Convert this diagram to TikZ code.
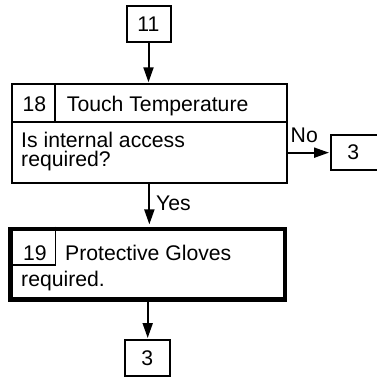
\documentclass[tikz,border=0pt]{standalone}
\usepackage{fontspec}
\setmainfont{Liberation Sans}
\usetikzlibrary{arrows.meta}
\begin{document}
\begin{tikzpicture}[x=1pt,y=-1pt,
  txt/.style={font=\fontsize{21.2}{25}\selectfont, inner sep=0pt},
  twoline/.style={font=\fontsize{21.2}{19}\selectfont, inner sep=0pt, align=left},
  box/.style={draw, line width=2pt, inner sep=0pt, font=\fontsize{21.2}{25}\selectfont},
  thickbox/.style={draw, line width=4.6pt, inner sep=0pt},
  conn/.style={line width=2pt, -{Triangle[length=15pt,width=10pt]}},
  rule/.style={line width=2pt},
  thinrule/.style={line width=1.6pt}]
\useasboundingbox (0,0) rectangle (376,381);
% boxes
\node[box, minimum width=44pt, minimum height=36.3pt] (b11) at (148.5,24.2) {11};
\node[box, minimum width=274.3pt, minimum height=98.7pt] (b18) at (149.35,133.65) {};
\node[box, minimum width=52pt, minimum height=35.3pt] (r3) at (357,152.65) {};
\node[thickbox, minimum width=274.6pt, minimum height=70.5pt] (b19) at (147.7,264.25) {};
\node[box, minimum width=45.5pt, minimum height=36pt] (b3) at (147.25,358) {3};
% inner rules of box 18
\draw[rule] (b18.west |- 0,121.7) -- (b18.east |- 0,121.7);
\draw[rule] (b18.north -| 55,0) -- (55,121.7);
% inner box of 19
\draw[thinrule] (b19.north -| 55.5,0) -- (55.5,265) -- (b19.west |- 0,265);
% texts
\node[txt] (r3t) at (353.3,152.65) {3};
\node[txt, anchor=base] (n18) at (34.5,111) {18};
\node[txt, anchor=base west] (t18) at (66.7,111) {Touch Temperature};
\node[twoline, anchor=base west] (q) at (21,166.7) {Is internal access\\required?};
\node[txt, anchor=base] (n19) at (35,260) {19};
\node[txt, anchor=base west] (t19) at (65,260) {Protective Gloves};
\node[txt, anchor=base west] (t19b) at (21,286) {required.};
\node[txt, anchor=base west] (no) at (290.5,142.7) {No};
\node[txt, anchor=base west] (yes) at (156,210.7) {Yes};
% connectors
\draw[conn] (b11.south) -- ([yshift=1pt]b18.north -| b11.south);
\draw[conn] (b18.east |- r3.west) -- ([xshift=-1pt]r3.west);
\draw[conn] (b18.south) -- ([yshift=2.3pt]b18.south |- b19.north);
\draw[conn] (b19.south) -- ([yshift=1pt]b19.south |- b3.north);
\end{tikzpicture}
\end{document}
